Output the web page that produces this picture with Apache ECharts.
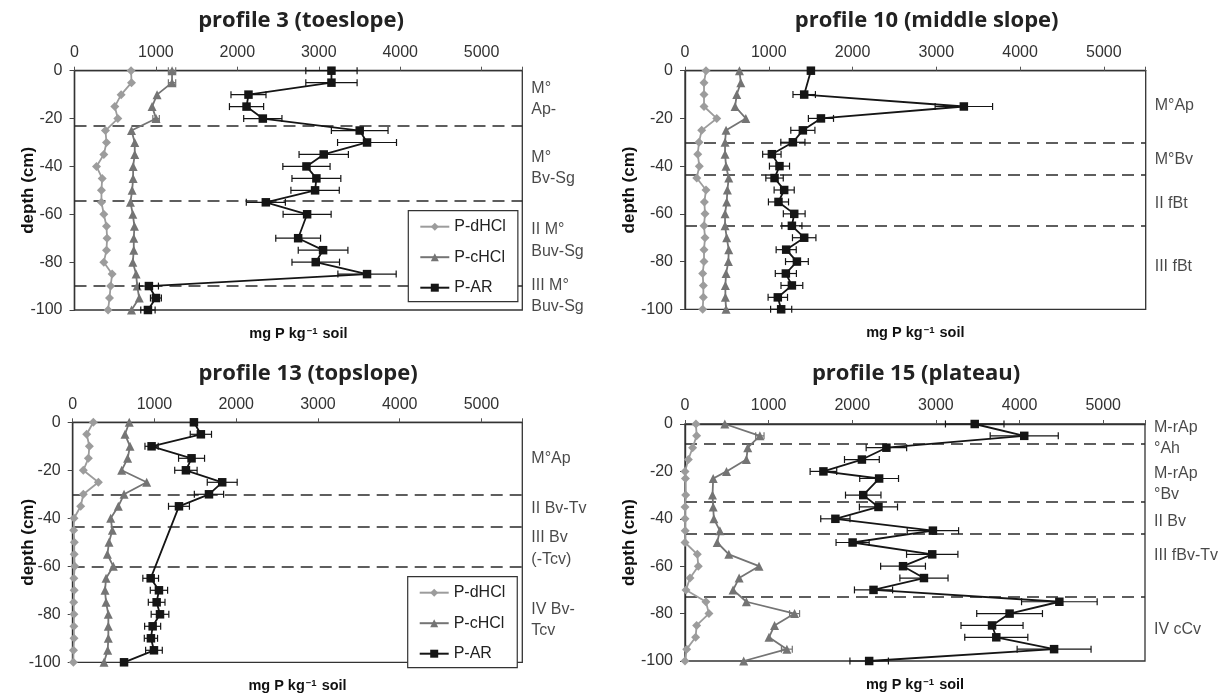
<!DOCTYPE html>
<html><head><meta charset="utf-8">
<script src="https://cdn.jsdelivr.net/npm/echarts@6/dist/echarts.min.js"></script>
<style>html,body{margin:0;padding:0;background:#fff}#c{width:1222px;height:697px}</style>
</head><body><div id="c"></div>
<script>
// ---------- DATA ----------
const depthsStd = [0,-5,-10,-15,-20,-25,-30,-35,-40,-45,-50,-55,-60,-65,-70,-75,-80,-85,-90,-95,-100];
const depths15  = [0,-5,-10,-15,-20,-23,-30,-35,-40,-45,-50,-55,-60,-65,-70,-75,-80,-85,-90,-95,-100];
const xTicks = [0,1000,2000,3000,4000,5000];

// profile 3 (toeslope)
const dHCl3  = [695,700,573,495,532,380,393,360,270,340,331,331,360,393,400,393,360,462,444,430,412];
const cHCl3  = [1198,1198,1014,953,1002,700,740,740,720,720,708,687,716,736,728,728,716,757,770,795,700];
const cErr3  = [45,45,0,0,40,0,0,0,0,0,0,0,0,0,0,0,0,0,0,0,0];
const AR3    = [3156,3156,2137,2113,2313,3503,3593,3061,2849,2971,2955,2350,2857,null,2747,3053,2963,3593,914,1000,902];
const ARerr3 = [315,315,215,210,235,348,362,303,290,300,297,240,295,null,275,305,292,358,117,67,88];
const bounds3 = [-23,-54.5,-90];
const horizonNames3 = ['M°\nAp-','M°\nBv-Sg','II M°\nBuv-Sg','III M°\nBuv-Sg'];
const horizonDepths3 = [-11.9,-40.8,-71.1,-94.1];

// profile 10 (middle slope)
const dHCl10  = [251,227,227,227,379,199,167,152,171,140,251,231,239,227,239,227,227,211,219,219,211];
const cHCl10  = [650,666,618,598,726,490,478,478,490,522,506,498,478,478,498,522,518,490,482,482,490];
const AR10    = [1503,null,1423,3329,1623,1407,1288,1037,1128,1069,1184,1116,1304,1276,1423,1208,1336,1204,1276,1108,1148];
const ARerr10 = [0,null,134,343,150,144,144,110,120,104,120,120,130,120,140,120,136,126,130,116,126];
const bounds10 = [-30,-43.4,-65];
const horizonNames10 = ['M°Ap','M°Bv','II fBt','III fBt'];
const horizonDepths10 = [-14.8,-37.4,-55.6,-82.1];

// profile 13 (topslope)
const dHCl13  = [252,171,204,192,130,314,130,98,16,12,20,18,25,14,18,12,15,14,16,10,8];
const cHCl13  = [692,640,701,672,599,905,628,558,465,485,444,424,497,408,395,408,436,436,436,428,383];
const AR13    = [1483,1568,965,1454,1385,1829,1667,1300,null,null,null,null,null,954,1055,1027,1068,978,957,994,628];
const ARerr13 = [0,130,81,159,137,183,179,128,null,null,null,null,null,96,106,102,108,98,81,102,0];
const bounds13 = [-30.3,-43.5,-60.1];
const horizonNames13 = ['M°Ap','II Bv-Tv','III Bv\n(-Tcv)','IV Bv-\nTcv'];
const horizonDepths13 = [-15.3,-35.8,-52.7,-82.5];

// profile 15 (plateau)
const dHCl15  = [131,139,91,40,0,5,8,0,0,2,0,147,159,60,12,250,286,139,127,20,0];
const cHCl15  = [476,895,750,734,496,337,329,337,345,417,385,524,885,647,575,734,1310,1071,1004,1218,702];
const cErr15  = [0,50,0,0,0,0,0,0,0,0,0,0,0,0,0,0,60,0,0,65,0];
const AR15    = [3464,4056,2408,2115,1655,2321,2131,2313,1798,2964,2004,2956,2607,2857,2254,4476,3881,3671,3722,4413,2202];
const ARerr15 = [350,407,242,208,159,232,212,228,175,307,198,307,268,288,228,452,393,371,377,442,230];
const bounds15 = [-8.2,-32.8,-46.4,-72.9];
const horizonNames15 = ['M-rAp\n°Ah','M-rAp\n°Bv','II Bv','III fBv-Tv','IV cCv'];
const horizonDepths15 = [-5.9,-25.4,-41.2,-55.6,-86.9];

const titles = ['profile 3 (toeslope)','profile 10 (middle slope)','profile 13 (topslope)','profile 15 (plateau)'];
const seriesNames = ['P-dHCl','P-cHCl','P-AR'];

// ---------- LAYOUT / STYLE ----------
const panels = [
  {depths:depthsStd, d:dHCl3,  c:cHCl3,  cErr:cErr3,  ar:AR3,  arErr:ARerr3,  bounds:bounds3,  hn:horizonNames3,  hd:horizonDepths3},
  {depths:depthsStd, d:dHCl10, c:cHCl10, cErr:null,   ar:AR10, arErr:ARerr10, bounds:bounds10, hn:horizonNames10, hd:horizonDepths10},
  {depths:depthsStd, d:dHCl13, c:cHCl13, cErr:null,   ar:AR13, arErr:ARerr13, bounds:bounds13, hn:horizonNames13, hd:horizonDepths13},
  {depths:depths15,  d:dHCl15, c:cHCl15, cErr:cErr15, ar:AR15, arErr:ARerr15, bounds:bounds15, hn:horizonNames15, hd:horizonDepths15}
];
const grids = [
  {left:74.5, top:70.7, width:447.8, height:239.3},
  {left:685,  top:70.7, width:460.7, height:238.6},
  {left:72.7, top:422.3, width:449.6, height:240},
  {left:685,  top:424,  width:460,   height:237}
];
const titlePos = [{x:301,y:10},{x:926.7,y:10},{x:308,y:363},{x:916,y:363}];
const yNameGap = [38,47.5,36,47];
const COL = {d:'#9c9c9c', c:'#747474', ar:'#151515', axis:'#333'};
const FONT = "'Liberation Sans', Arial, sans-serif";

function pts(vals, depths){
  return vals.map((v,i)=> v==null ? null : [v, depths[i]]).filter(Boolean);
}
function errPts(vals, errs, depths){
  if(!errs) return [];
  return vals.map((v,i)=> (v==null || !errs[i]) ? null : [v, depths[i], errs[i]]).filter(Boolean);
}
function errRender(params, api){
  const x = api.value(0), y = api.value(1), e = api.value(2);
  const a = api.coord([x-e, y]), b = api.coord([x+e, y]);
  const h = 3.5;
  const style = {stroke: api.visual('color'), lineWidth: 1.2};
  return {type:'group', children:[
    {type:'line', shape:{x1:a[0],y1:a[1],x2:b[0],y2:b[1]}, style},
    {type:'line', shape:{x1:a[0],y1:a[1]-h,x2:a[0],y2:a[1]+h}, style},
    {type:'line', shape:{x1:b[0],y1:b[1]-h,x2:b[0],y2:b[1]+h}, style}
  ]};
}

const option = {
  animation:false,
  backgroundColor:'#fff',
  textStyle:{fontFamily:FONT},
  title: titles.map((t,i)=>({
    text:t, left:titlePos[i].x, top:titlePos[i].y, textAlign:'center', padding:0,
    textStyle:{fontFamily:"'Open Sans', sans-serif", fontWeight:'bold', fontSize:22, color:'#222'}
  })),
  legend: [ {left:408.3, top:210.7}, {left:407.7, top:576.7} ].map(p=>({
    data:seriesNames, orient:'vertical', left:p.left, top:p.top, z:30, zlevel:0,
    padding:[8,12,6,11], itemGap:14.5, itemWidth:29, itemHeight:10,
    backgroundColor:'#fff', borderColor:'#333', borderWidth:1.2, borderRadius:0,
    textStyle:{fontFamily:FONT, fontSize:16, color:'#222'}, selectedMode:false
  })),
  grid: grids.map(g=>({left:g.left, top:g.top, width:g.width, height:g.height,
    show:true, borderColor:COL.axis, borderWidth:1.3, backgroundColor:'transparent'})),
  xAxis: [
    ...grids.map((g,i)=>({
      gridIndex:i, type:'value', position:'top', min:0, max:5500, interval:1000,
      axisLine:{show:true, lineStyle:{color:COL.axis, width:1.4}},
      axisTick:{show:true, inside:false, length:4, lineStyle:{color:'#555'}},
      axisLabel:{fontFamily:FONT, fontSize:16, color:'#333', margin:10,
        formatter:v=> xTicks.indexOf(v) >= 0 ? String(v) : ''},
      splitLine:{show:false}
    })),
    ...grids.map((g,i)=>({
      gridIndex:i, type:'value', position:'bottom', min:0, max:5500,
      axisLine:{show:false}, axisTick:{show:false}, axisLabel:{show:false}, splitLine:{show:false},
      name:'mg P kg{sup|−1} soil', nameLocation:'middle', nameGap:16, nameMoveOverlap:false,
      nameTextStyle:{fontFamily:FONT, fontWeight:'bold', fontSize:14.5, color:'#111',
        rich:{sup:{fontFamily:FONT, fontWeight:'bold', fontSize:9.5, color:'#111', verticalAlign:'top', padding:[0,1,0,1]}}}
    }))
  ],
  yAxis: grids.map((g,i)=>({
    gridIndex:i, type:'value', min:-100, max:0, interval:20,
    axisLine:{show:true, lineStyle:{color:COL.axis, width:1.4}},
    axisTick:{show:true, inside:false, length:5, lineStyle:{color:'#444'}},
    axisLabel:{fontFamily:FONT, fontSize:16, color:'#333', margin:12},
    splitLine:{show:false},
    name:'depth (cm)', nameLocation:'middle', nameGap:yNameGap[i], nameRotate:90, nameMoveOverlap:false,
    nameTextStyle:{fontFamily:FONT, fontWeight:'bold', fontSize:17, color:'#111'}
  })),
  series: []
};

panels.forEach((p,i)=>{
  // horizon labels + boundary lines
  option.series.push({
    type:'scatter', xAxisIndex:i, yAxisIndex:i, clip:false, silent:true,
    symbolSize:0, itemStyle:{color:'rgba(0,0,0,0)'},
    data: p.hn.map((n,k)=>({name:n, value:[5500, p.hd[k]]})),
    label:{show:true, position:'right', distance:9, formatter:'{b}', align:'left',
      fontFamily:FONT, fontSize:16, lineHeight:21.5, color:'#1a1a1a'},
    markLine:{silent:true, symbol:'none', label:{show:false}, z:1,
      lineStyle:{type:[12,7], color:'#2a2a2a', width:1.5},
      data: p.bounds.map(b=>({yAxis:b}))},
    z:1
  });
  option.series.push({
    type:'line', name:seriesNames[0], xAxisIndex:i, yAxisIndex:i,
    data:pts(p.d, p.depths), symbol:'diamond', symbolSize:9,
    itemStyle:{color:COL.d}, lineStyle:{color:COL.d, width:1.8}, z:3
  });
  if(p.cErr){
    option.series.push({
      type:'custom', xAxisIndex:i, yAxisIndex:i, renderItem:errRender,
      itemStyle:{color:COL.c}, encode:{x:0,y:1}, data:errPts(p.c, p.cErr, p.depths), z:3, silent:true
    });
  }
  option.series.push({
    type:'line', name:seriesNames[1], xAxisIndex:i, yAxisIndex:i,
    data:pts(p.c, p.depths), symbol:'triangle', symbolSize:9,
    itemStyle:{color:COL.c}, lineStyle:{color:COL.c, width:1.8}, z:3
  });
  option.series.push({
    type:'custom', xAxisIndex:i, yAxisIndex:i, renderItem:errRender,
    itemStyle:{color:COL.ar}, encode:{x:0,y:1}, data:errPts(p.ar, p.arErr, p.depths), z:4, silent:true
  });
  option.series.push({
    type:'line', name:seriesNames[2], xAxisIndex:i, yAxisIndex:i,
    data:pts(p.ar, p.depths), symbol:'rect', symbolSize:8.5,
    itemStyle:{color:COL.ar}, lineStyle:{color:COL.ar, width:1.8}, z:4
  });
});

const chart = echarts.init(document.getElementById('c'), null, {renderer:'canvas'});
chart.setOption(option);
</script>
</body></html>
